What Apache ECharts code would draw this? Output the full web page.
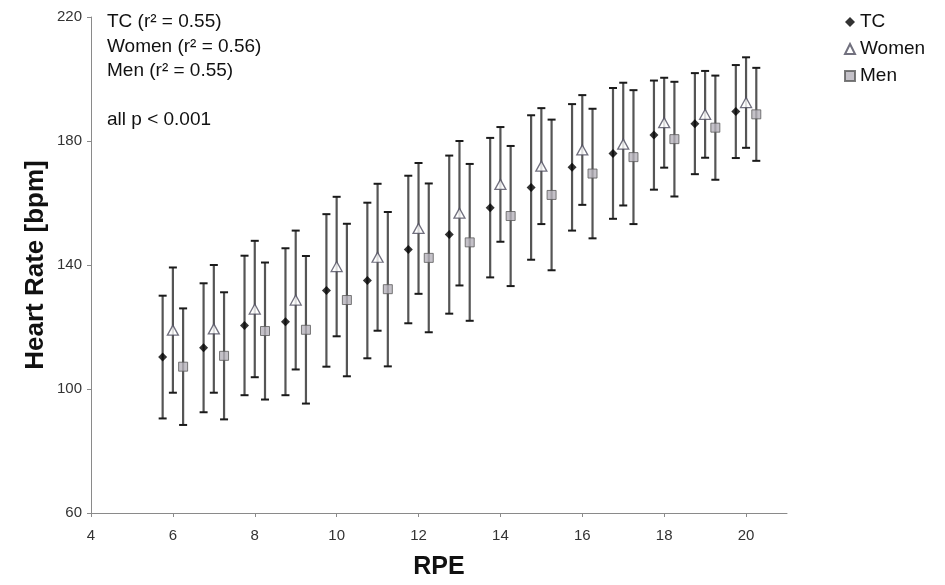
<!DOCTYPE html>
<html>
<head>
<meta charset="utf-8">
<script src="https://cdn.jsdelivr.net/npm/echarts@6/dist/echarts.min.js"></script>
<style>
  html, body { margin: 0; background: #fff; }
  #chart { width: 945px; height: 585px; }
</style>
</head>
<body>
<div id="chart"></div>
<script>
// RPE levels and mean / SD of heart rate per group
const rpe = [6, 7, 8, 9, 10, 11, 12, 13, 14, 15, 16, 17, 18, 19, 20]
const tcMean = [110.3, 113.3, 120.5, 121.7, 131.8, 135.0, 145.0, 149.8, 158.5, 165.0, 171.5, 176.0, 181.9, 185.6, 189.5]
const tcSD = [19.8, 20.8, 22.5, 23.7, 24.6, 25.1, 23.8, 25.5, 22.5, 23.3, 20.4, 21.1, 17.6, 16.3, 15.0]
const womenMean = [119.0, 119.4, 125.8, 128.7, 139.5, 142.5, 151.8, 156.7, 166.0, 171.9, 177.1, 179.0, 185.9, 188.6, 192.4]
const womenSD = [20.2, 20.6, 22.0, 22.4, 22.5, 23.7, 21.1, 23.3, 18.5, 18.7, 17.7, 19.8, 14.5, 14.0, 14.6]
const menMean = [107.2, 110.7, 118.7, 119.1, 128.7, 132.2, 142.3, 147.3, 155.8, 162.6, 169.5, 174.8, 180.6, 184.3, 188.6]
const menSD = [18.8, 20.5, 22.1, 23.8, 24.6, 24.9, 24.0, 25.3, 22.6, 24.3, 20.9, 21.6, 18.5, 16.8, 15.0]

const xTicks = [4, 6, 8, 10, 12, 14, 16, 18, 20]
const notes = ['TC (r² = 0.55)', 'Women (r² = 0.56)', 'Men (r² = 0.55)', '', 'all p < 0.001']

const FONT = "'Liberation Sans', Arial, sans-serif"

// groups are drawn side by side around each RPE value
const groups = [
  { name: 'TC', mean: tcMean, sd: tcSD, shift: -0.25, symbol: 'diamond', size: 9,
    style: { color: '#000' } },
  { name: 'Women', mean: womenMean, sd: womenSD, shift: 0, symbol: 'triangle', size: [11, 10],
    style: { color: '#fff', borderColor: '#4e4c5e', borderWidth: 1.3 } },
  { name: 'Men', mean: menMean, sd: menSD, shift: 0.25, symbol: 'rect', size: 9,
    style: { color: '#b5b2ba', borderColor: '#5a5a5a', borderWidth: 1 } },
]

function renderBar(params, api) {
  const x = api.value(0)
  const top = api.coord([x, api.value(2)])
  const bot = api.coord([x, api.value(1)])
  const w = 4
  return {
    type: 'group',
    children: [
      { type: 'line', shape: { x1: top[0], y1: top[1], x2: bot[0], y2: bot[1] },
        style: { stroke: '#555', lineWidth: 2.2 } },
      { type: 'line', shape: { x1: top[0] - w, y1: top[1], x2: top[0] + w, y2: top[1] },
        style: { stroke: '#1a1a1a', lineWidth: 2 } },
      { type: 'line', shape: { x1: bot[0] - w, y1: bot[1], x2: bot[0] + w, y2: bot[1] },
        style: { stroke: '#1a1a1a', lineWidth: 2 } },
    ],
  }
}

const series = []
groups.forEach((g) => {
  series.push({
    name: g.name + ' SD',
    type: 'custom',
    z: 1,
    renderItem: renderBar,
    encode: { x: 0, y: [1, 2] },
    data: rpe.map((r, i) => [r + g.shift, g.mean[i] - g.sd[i], g.mean[i] + g.sd[i]]),
  })
})
groups.forEach((g) => {
  series.push({
    name: g.name,
    type: 'scatter',
    z: 3,
    symbol: g.symbol,
    symbolSize: g.size,
    itemStyle: g.style,
    data: rpe.map((r, i) => [r + g.shift, g.mean[i]]),
  })
})

const chart = echarts.init(document.getElementById('chart'), null, { renderer: 'canvas' })
chart.setOption({
  backgroundColor: '#fff',
  animation: false,
  textStyle: { fontFamily: FONT },
  grid: { left: 91, right: 158, top: 17, bottom: 72 },
  legend: {
    data: ['TC', 'Women', 'Men'],
    orient: 'vertical',
    left: 839,
    top: 7,
    itemGap: 7,
    itemWidth: 10,
    itemHeight: 10,
    textStyle: { fontFamily: FONT, fontSize: 19, lineHeight: 20, color: '#111' },
  },
  graphic: [
    {
      type: 'text',
      left: 107,
      top: 10,
      style: {
        text: notes.join('\n'),
        fontFamily: FONT,
        fontSize: 19,
        lineHeight: 24.3,
        fill: '#111',
      },
    },
  ],
  xAxis: {
    type: 'value',
    min: 4,
    max: 21,
    interval: 2,
    name: 'RPE',
    nameLocation: 'middle',
    nameGap: 42,
    nameMoveOverlap: false,
    nameTextStyle: { fontFamily: FONT, fontSize: 25, fontWeight: 'bold', color: '#111' },
    axisLine: { lineStyle: { color: '#8a8a8a', width: 1 } },
    axisTick: { length: 4, customValues: xTicks, lineStyle: { color: '#8a8a8a' } },
    axisLabel: { customValues: xTicks, margin: 15, fontSize: 15, color: '#333' },
    splitLine: { show: false },
  },
  yAxis: {
    type: 'value',
    min: 60,
    max: 220,
    interval: 40,
    name: 'Heart Rate [bpm]',
    nameLocation: 'middle',
    nameGap: 42,
    nameMoveOverlap: false,
    nameTextStyle: { fontFamily: FONT, fontSize: 26, fontWeight: 'bold', color: '#111' },
    axisLine: { show: true, lineStyle: { color: '#8a8a8a', width: 1 } },
    axisTick: { show: true, length: 4, lineStyle: { color: '#8a8a8a' } },
    axisLabel: { margin: 9, fontSize: 15, color: '#333' },
    splitLine: { show: false },
  },
  series: series,
})
</script>
</body>
</html>
